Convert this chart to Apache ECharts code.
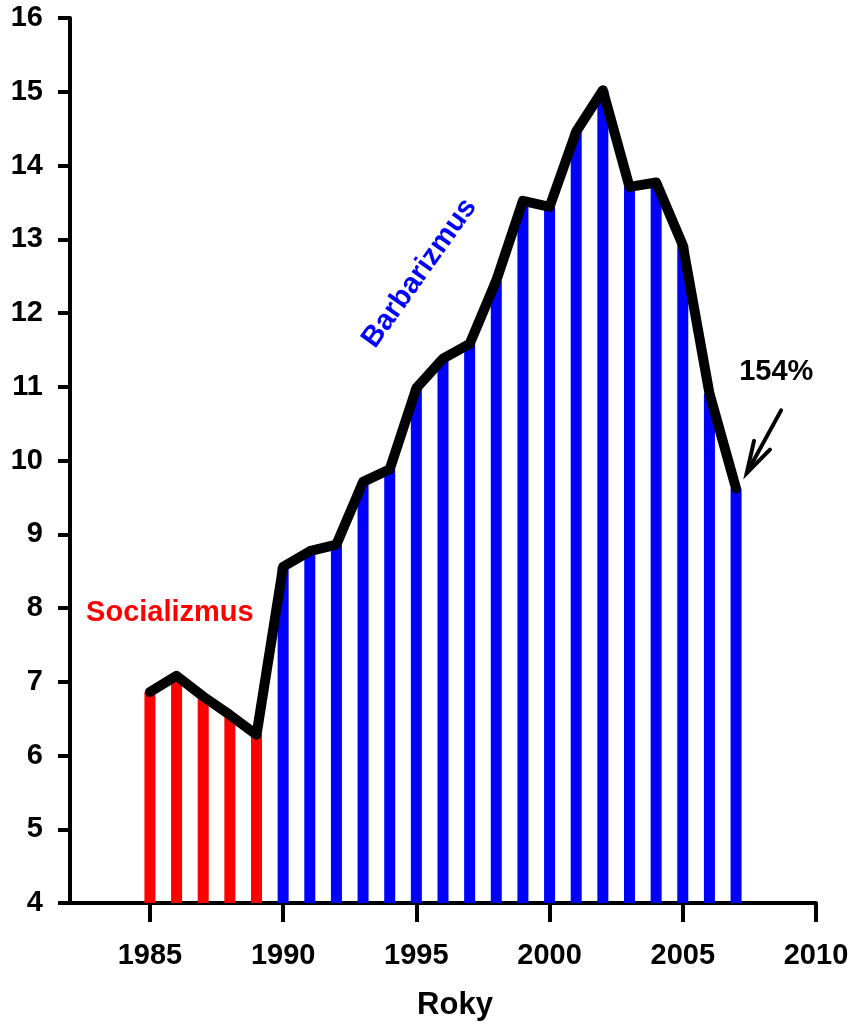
<!DOCTYPE html>
<html>
<head>
<meta charset="utf-8">
<script src="https://cdn.jsdelivr.net/npm/echarts@6/dist/echarts.min.js"></script>
<style>
  html, body { margin: 0; padding: 0; background: #fff; }
  #chart { width: 854px; height: 1026px; }
</style>
</head>
<body>
<div id="chart"></div>
<script>
// Yearly values, 1985–2007
const years = [1985, 1986, 1987, 1988, 1989, 1990, 1991, 1992, 1993, 1994, 1995, 1996,
               1997, 1998, 1999, 2000, 2001, 2002, 2003, 2004, 2005, 2006, 2007];
const values = [6.86, 7.08, 6.80, 6.55, 6.28, 8.56, 8.77, 8.86, 9.71, 9.88, 10.98, 11.38,
                11.58, 12.44, 13.52, 13.44, 14.46, 15.02, 13.71, 13.77, 12.92, 10.91, 9.62];
const eraSplitYear = 1990;          // bars before this year are red
const xTickYears = [1985, 1990, 1995, 2000, 2005, 2010];
const xAxisName = 'Roky';
const labelLeft = 'Socializmus';
const labelRight = 'Barbarizmus';
const labelEnd = '154%';

const RED = '#ff0000';
const BLUE = '#0000ff';
const FONT = '"Liberation Sans", Arial, sans-serif';

const points = years.map((y, i) => [y, values[i]]);

const chart = echarts.init(document.getElementById('chart'), null, { renderer: 'canvas' });

chart.setOption({
  animation: false,
  backgroundColor: '#fff',
  grid: { left: 70, right: 38, top: 18, bottom: 123 },
  xAxis: {
    type: 'value',
    min: 1982,
    max: 2010,
    splitLine: { show: false },
    axisLine: { lineStyle: { color: '#000', width: 4 } },
    axisTick: { customValues: xTickYears, length: 19, lineStyle: { color: '#000', width: 4 } },
    axisLabel: {
      customValues: xTickYears,
      formatter: v => String(v),
      margin: 38,
      color: '#000',
      fontSize: 29,
      fontWeight: 'bold',
      fontFamily: FONT
    },
    name: xAxisName,
    nameLocation: 'middle',
    nameGap: 87,
    nameTextStyle: {
      color: '#000',
      fontSize: 31,
      fontWeight: 'bold',
      fontFamily: FONT,
      padding: [0, 0, 0, 24]
    }
  },
  yAxis: {
    type: 'value',
    min: 4,
    max: 16,
    interval: 1,
    splitLine: { show: false },
    axisLine: { show: true, lineStyle: { color: '#000', width: 4 } },
    axisTick: { show: true, length: 12, lineStyle: { color: '#000', width: 4 } },
    axisLabel: {
      margin: 27,
      color: '#000',
      fontSize: 29,
      fontWeight: 'bold',
      fontFamily: FONT
    }
  },
  series: [
    {
      type: 'bar',
      data: points,
      barWidth: 11,
      clip: true,
      itemStyle: {
        color: p => (p.value[0] < eraSplitYear ? RED : BLUE)
      },
      z: 2
    },
    {
      type: 'line',
      data: points,
      showSymbol: false,
      lineStyle: { color: '#000', width: 10, cap: 'round', join: 'round' },
      z: 3
    }
  ]
});

// Annotations placed in data coordinates
const toPx = (p) => chart.convertToPixel({ gridIndex: 0 }, p);

const leftPos = toPx([1985.75, 7.93]);
const rightPos = toPx([1995.12, 12.54]);
const endPos = toPx([2008.51, 11.2]);
const arrowTail = toPx([2008.69, 10.68]);
const arrowTip = toPx([2007.4, 9.83]);

// Open arrow head at the tip
const ang = Math.atan2(arrowTail[1] - arrowTip[1], arrowTail[0] - arrowTip[0]);
const headLen = 33;
const spread = 16 * Math.PI / 180;
const arm1 = [arrowTip[0] + headLen * Math.cos(ang - spread), arrowTip[1] + headLen * Math.sin(ang - spread)];
const arm2 = [arrowTip[0] + headLen * Math.cos(ang + spread), arrowTip[1] + headLen * Math.sin(ang + spread)];

chart.setOption({
  graphic: [
    {
      type: 'text',
      x: leftPos[0], y: leftPos[1],
      z: 10,
      style: {
        text: labelLeft, fill: RED, font: 'bold 29px ' + FONT,
        align: 'center', verticalAlign: 'middle'
      }
    },
    {
      type: 'text',
      x: rightPos[0], y: rightPos[1],
      rotation: 54.5 * Math.PI / 180,
      z: 10,
      style: {
        text: labelRight, fill: BLUE, font: 'bold 29px ' + FONT,
        align: 'center', verticalAlign: 'middle'
      }
    },
    {
      type: 'text',
      x: endPos[0], y: endPos[1],
      z: 10,
      style: {
        text: labelEnd, fill: '#000', font: 'bold 29px ' + FONT,
        align: 'center', verticalAlign: 'middle'
      }
    },
    {
      type: 'polyline',
      z: 10,
      shape: { points: [arrowTail, arrowTip] },
      style: { stroke: '#000', lineWidth: 4, lineCap: 'round' }
    },
    {
      type: 'polyline',
      z: 10,
      shape: { points: [arm1, arrowTip, arm2] },
      style: { stroke: '#000', lineWidth: 4, fill: null, lineCap: 'round', lineJoin: 'miter' }
    }
  ]
});
</script>
</body>
</html>
